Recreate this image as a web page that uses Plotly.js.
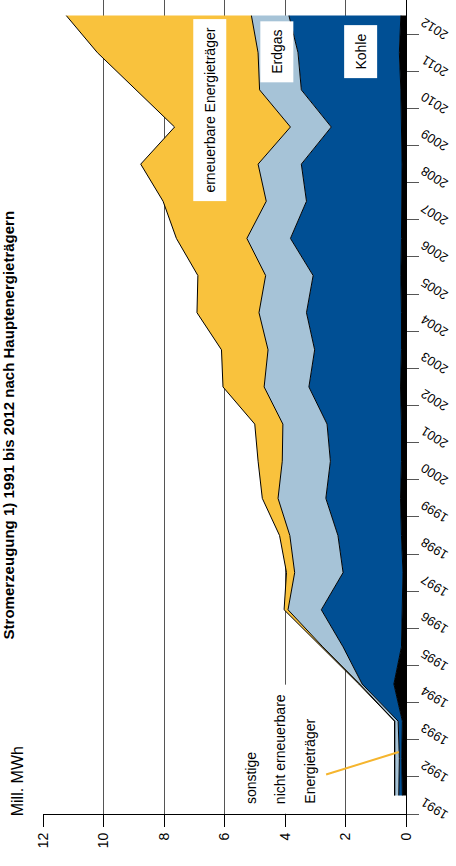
<!DOCTYPE html>
<html><head><meta charset="utf-8">
<script src="https://cdn.plot.ly/plotly-3.0.1.min.js"></script>
<style>html,body{margin:0;padding:0;background:#fff;} #chart{width:456px;height:866px;}</style>
</head><body><div id="chart"></div>
<script>
const years = [1991,1992,1993,1994,1995,1996,1997,1998,1999,2000,2001,2002,2003,2004,2005,2006,2007,2008,2009,2010,2011,2012];
const sonstige = [0.12,0.14,0.12,0.40,0.15,0.12,0.10,0.15,0.18,0.15,0.15,0.18,0.15,0.15,0.17,0.15,0.13,0.13,0.15,0.17,0.22,0.17];
const kohle = [0.12,0.08,0.14,1.05,1.93,2.68,1.98,2.10,2.47,2.35,2.46,3.03,2.87,3.14,2.90,3.67,3.16,3.33,2.32,3.29,3.35,3.70];
const erdgas = [0.13,0.15,0.11,0.08,0.67,1.10,1.60,1.59,1.58,1.59,1.46,1.48,1.54,1.57,1.57,1.44,1.33,1.43,1.35,1.38,1.32,1.24];
const erneuerbare = [0.01,0.01,0.01,0.03,0.04,0.13,0.27,0.34,0.52,0.80,0.93,1.36,1.54,2.05,2.24,2.33,3.41,3.88,3.83,4.10,5.31,6.12];
const valueTicks = [0,2,4,6,8,10,12];
const yearTickText = years.map(String);

const FONT = 'Arial, "Liberation Sans", sans-serif';
function area(name, xs, color) {
  return {name: name, type: 'scatter', mode: 'lines', x: xs, y: years,
    stackgroup: 'strom', orientation: 'h', fillcolor: color,
    line: {color: '#000', width: 1}, hoverinfo: 'skip'};
}
const data = [
  area('sonstige', sonstige, '#000000'),
  area('Kohle', kohle, '#004F94'),
  area('Erdgas', erdgas, '#A6C3D7'),
  area('erneuerbare Energieträger', erneuerbare, '#F9C23D')
];

function label(text, x, y, extra) {
  return Object.assign({text: text, x: x, y: y, xref: 'x', yref: 'y', textangle: -90,
    showarrow: false, bgcolor: '#fff', borderpad: 8,
    font: {family: FONT, size: 14, color: '#000'}}, extra || {});
}

const layout = {
  width: 456, height: 866,
  margin: {l: 43, r: 50, t: 0, b: 52},
  paper_bgcolor: '#fff', plot_bgcolor: '#fff',
  showlegend: false, hovermode: false,
  font: {family: FONT, size: 14, color: '#000'},
  xaxis: {range: [12, 0], tickvals: valueTicks, ticktext: valueTicks.map(String),
    showgrid: true, gridcolor: '#555', gridwidth: 1, zeroline: false,
    showline: true, linecolor: '#000', linewidth: 1,
    ticks: 'outside', ticklen: 12, tickcolor: '#000', tickangle: -90,
    tickfont: {family: FONT, size: 14, color: '#000'}},
  yaxis: {range: [1990.5, 2012.42], side: 'right',
    tickvals: years.map(y => y - 0.5), ticktext: yearTickText,
    showgrid: false, zeroline: false, showline: true, linecolor: '#000', linewidth: 1,
    ticks: 'outside', ticklen: 12, tickcolor: '#555', tickangle: -148,
    ticklabelstandoff: 24, ticklabelshift: 6,
    tickfont: {family: FONT, size: 13, color: '#000'}},
  annotations: [
    label('erneuerbare Energieträger', 6.49, 2009.46),
    label('Erdgas', 4.27, 2011.02),
    label('Kohle', 1.50, 2011.02),
    label('sonstige', 5.12, 1990.5, {yanchor: 'bottom', borderpad: 9}),
    label('nicht erneuerbare', 4.16, 1990.5, {yanchor: 'bottom', borderpad: 9}),
    label('Energieträger', 3.2, 1990.5, {yanchor: 'bottom', borderpad: 9}),
    {text: '', x: 0.24, y: 1992.17, xref: 'x', yref: 'y', axref: 'x', ayref: 'y',
      ax: 2.69, ay: 1991.55, showarrow: true, arrowhead: 0, arrowwidth: 2,
      arrowcolor: '#F5B52E', standoff: 0, startstandoff: 0},
    {text: '<b>Stromerzeugung 1) 1991 bis 2012 nach Hauptenergieträgern</b>',
      xref: 'paper', yref: 'paper', x: -0.124, y: 0.478, textangle: -90,
      showarrow: false, font: {family: FONT, size: 15, color: '#000'}},
    {text: 'Mill. MWh', xref: 'paper', yref: 'paper', x: -0.1, y: -0.005, textangle: -90,
      showarrow: false, font: {family: FONT, size: 16, color: '#000'}}
  ]
};
Plotly.newPlot('chart', data, layout, {staticPlot: true, displayModeBar: false});
</script></body></html>
